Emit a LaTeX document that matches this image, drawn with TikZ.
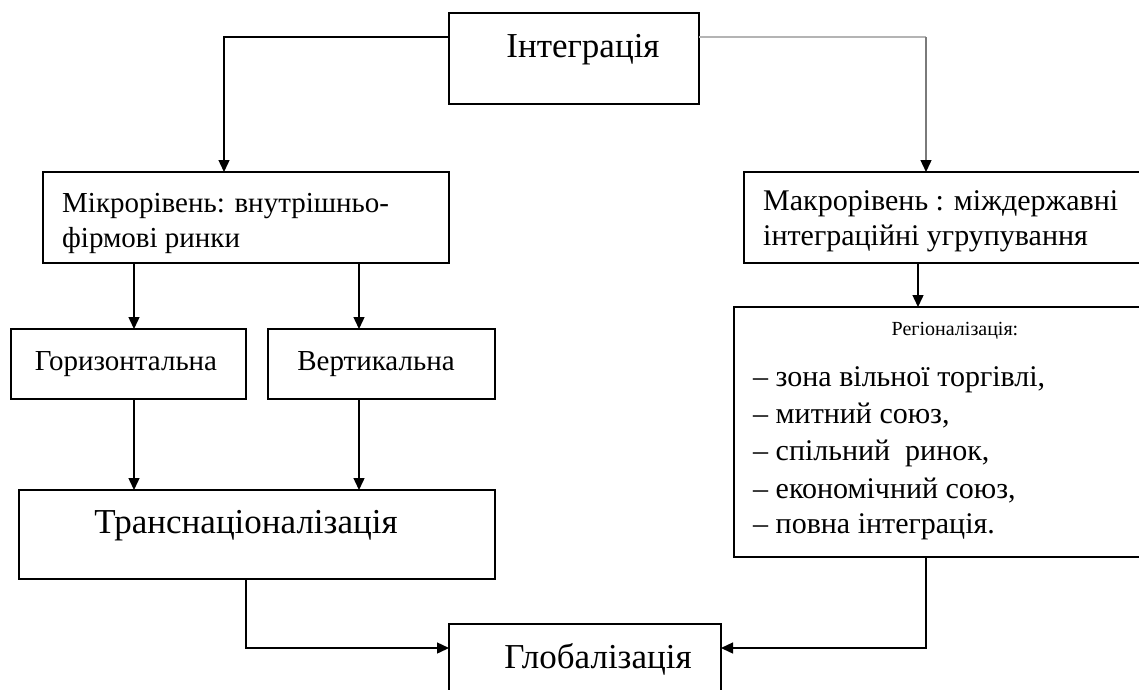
\documentclass[tikz,border=0pt]{standalone}
\usepackage{fontspec}
\setmainfont{Liberation Serif}
\usetikzlibrary{arrows.meta,calc}
\definecolor{lightline}{HTML}{B4B4B4}
\definecolor{darkline}{HTML}{7A7A7A}
\begin{document}
\begin{tikzpicture}[x=1pt,y=-1pt,
  box/.style={draw=black, line width=1.4pt, inner sep=0pt, outer sep=0pt, anchor=north west},
  conn/.style={draw=black, line width=1.4pt, -{Triangle[length=12pt,width=11pt]}},
  big/.style={font=\fontsize{35}{42}\selectfont, inner sep=0pt},
  mid/.style={font=\fontsize{29}{35}\selectfont, inner sep=0pt},
  midw/.style={font=\fontsize{30}{36}\selectfont, inner sep=0pt},
  small/.style={font=\fontsize{20}{24}\selectfont, inner sep=0pt}]
\useasboundingbox (0,0) rectangle (1139,689);
% boxes
\node[box, minimum width=250pt, minimum height=91pt] (integ) at (449,13) {};
\node[box, minimum width=406pt, minimum height=91pt] (micro) at (43,172) {};
\node[box, minimum width=400pt, minimum height=91pt] (macro) at (744,172) {};
\node[box, minimum width=410pt, minimum height=250pt] (region) at (734,307) {};
\node[box, minimum width=235pt, minimum height=70pt] (horiz) at (11,329) {};
\node[box, minimum width=227pt, minimum height=70pt] (vert) at (268,329) {};
\node[box, minimum width=476pt, minimum height=89pt] (trans) at (19,490) {};
\node[box, minimum width=272pt, minimum height=80pt] (glob) at (449,624) {};
% texts
\node[big, anchor=base] (tinteg) at (583,57) {Інтеграція};
\node[mid, anchor=base west] (tmicro1) at (62,212) {Мікрорівень: внутрішньо-};
\node[mid, anchor=base west] (tmicro2) at (62,247) {фірмові ринки};
\node[midw, anchor=base west] (tmacro1) at (763,210) {Макрорівень : міждержавні};
\node[midw, anchor=base west] (tmacro2) at (763,245) {інтеграційні угрупування};
\node[small, anchor=base] (treg) at (955,335) {Регіоналізація:};
\node[midw, anchor=base west] (l1) at (753,386) {– зона вільної торгівлі,};
\node[midw, anchor=base west] (l2) at (753,423) {– митний союз,};
\node[midw, anchor=base west] (l3) at (753,460) {– спільний\ \ ринок,};
\node[midw, anchor=base west] (l4) at (753,498) {– економічний союз,};
\node[midw, anchor=base west] (l5) at (753,533) {– повна інтеграція.};
\node[mid, anchor=base] (thoriz) at (126,370) {Горизонтальна};
\node[mid, anchor=base] (tvert) at (376,370) {Вертикальна};
\node[big, anchor=base] (ttrans) at (246,533) {Транснаціоналізація};
\node[big, anchor=base] (tglob) at (598,668) {Глобалізація};
% connectors
\draw[conn] ([yshift=-24pt]integ.north west) -| ([xshift=-22pt]micro.north);
\draw[lightline, line width=1.4pt] ([yshift=-24pt]integ.north east) -- ([yshift=-24pt,xshift=-18pt]integ.north east -| macro.north);
\draw[darkline, line width=1.4pt, -{Triangle[length=12pt,width=11pt,color=black,fill=black]}] ([yshift=-24pt,xshift=-18pt]integ.north east -| macro.north) -- ([xshift=-18pt]macro.north);
\draw[conn] ([xshift=5.5pt]horiz.north |- micro.south) -- ([xshift=5.5pt]horiz.north);
\draw[conn] ([xshift=-22.5pt]vert.north |- micro.south) -- ([xshift=-22.5pt]vert.north);
\draw[conn] ([xshift=5.5pt]horiz.south) -- ([xshift=5.5pt]horiz.south |- trans.north);
\draw[conn] ([xshift=-22.5pt]vert.south) -- ([xshift=-22.5pt]vert.south |- trans.north);
\draw[conn] ([xshift=-26pt]macro.south) -- ([xshift=-26pt]macro.south |- region.north);
\draw[conn] ([xshift=-11pt]trans.south) |- ([yshift=-24pt]glob.north west);
\draw[conn] ([xshift=-13pt]region.south) |- ([yshift=-24pt]glob.north east);
\end{tikzpicture}
\end{document}
